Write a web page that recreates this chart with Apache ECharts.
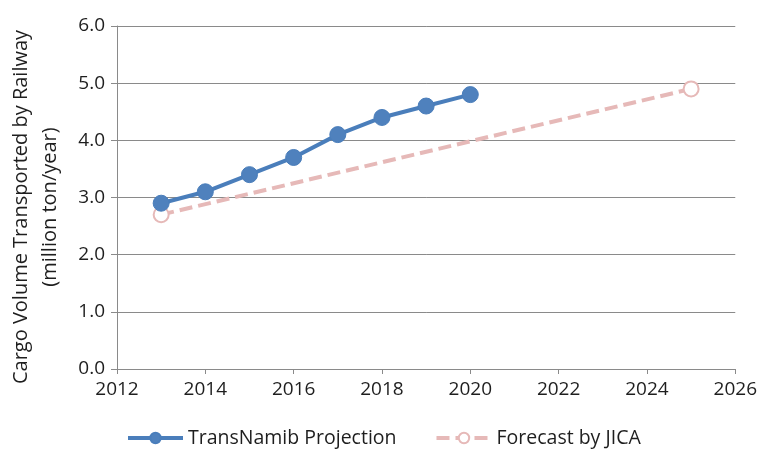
<!DOCTYPE html>
<html>
<head>
<meta charset="utf-8">
<script src="https://cdn.jsdelivr.net/npm/echarts@6/dist/echarts.min.js"></script>
<style>
  html, body { margin: 0; padding: 0; background: #fff; }
  #chart { width: 760px; height: 455px; }
</style>
</head>
<body>
<div id="chart"></div>
<script>
// Railway cargo volume, million ton per year
const transNamibYears = [2013, 2014, 2015, 2016, 2017, 2018, 2019, 2020];
const transNamibValues = [2.9, 3.1, 3.4, 3.7, 4.1, 4.4, 4.6, 4.8];
const jicaYears = [2013, 2025];
const jicaValues = [2.7, 4.9];
const seriesNames = ['TransNamib Projection', 'Forecast by JICA'];
const yTitleLines = ['Cargo Volume Transported by Railway', '(million ton/year)'];

const FONT = '"Open Sans", sans-serif';
const TEXT = '#1e1e1e';
const GRID = '#8a8a8a';

const chart = echarts.init(document.getElementById('chart'), null, { renderer: 'canvas' });

chart.setOption({
  animation: false,
  backgroundColor: '#ffffff',
  textStyle: { fontFamily: FONT },
  grid: { left: 117, right: 24, top: 26, bottom: 86, containLabel: false },
  legend: {
    top: 428,
    left: 121,
    padding: [0, 5],
    itemWidth: 55,
    itemHeight: 13,
    itemGap: 38,
    lineStyle: { width: 4 },
    textStyle: { fontFamily: FONT, fontSize: 19.5, color: TEXT },
    data: seriesNames
  },
  xAxis: {
    type: 'value',
    min: 2012,
    max: 2026,
    interval: 2,
    axisLine: { show: true, lineStyle: { color: GRID, width: 1 } },
    axisTick: { show: true, length: 5, lineStyle: { color: GRID } },
    splitLine: { show: false },
    axisLabel: {
      fontFamily: FONT, fontSize: 19, color: TEXT, margin: 11,
      formatter: v => String(v)
    }
  },
  yAxis: {
    type: 'value',
    min: 0,
    max: 6,
    interval: 1,
    axisLine: { show: true, lineStyle: { color: GRID, width: 1 } },
    axisTick: { show: true, length: 6, lineStyle: { color: GRID } },
    splitLine: { show: true, lineStyle: { color: GRID, width: 1 } },
    axisLabel: {
      fontFamily: FONT, fontSize: 19, color: TEXT, margin: 12,
      formatter: v => v.toFixed(1)
    }
  },
  graphic: [{
    type: 'text',
    x: 36,
    y: 207,
    rotation: Math.PI / 2,
    style: {
      text: yTitleLines.join('\n'),
      font: '20px ' + FONT,
      fill: TEXT,
      align: 'center',
      verticalAlign: 'middle',
      lineHeight: 29
    }
  }],
  series: [
    {
      name: seriesNames[0],
      type: 'line',
      data: transNamibYears.map((y, i) => [y, transNamibValues[i]]),
      symbol: 'circle',
      symbolSize: 16,
      color: '#4a7ebb',
      lineStyle: { color: '#4a7ebb', width: 4 },
      itemStyle: { color: '#4f81bd', borderColor: '#4a7ebb', borderWidth: 1 },
      z: 3
    },
    {
      name: seriesNames[1],
      type: 'line',
      data: jicaYears.map((y, i) => [y, jicaValues[i]]),
      symbol: 'circle',
      symbolSize: 15,
      color: '#e6b9b8',
      lineStyle: { color: '#e6b9b8', width: 4, type: [13, 6] },
      itemStyle: { color: '#ffffff', borderColor: '#e6b9b8', borderWidth: 2 },
      z: 2
    }
  ]
});
</script>
</body>
</html>
